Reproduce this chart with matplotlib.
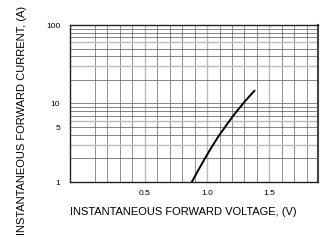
import numpy as np
import matplotlib.pyplot as plt

plt.rcParams['font.family'] = ['Liberation Sans', 'DejaVu Sans']

# forward characteristic
voltage = [0.877, 0.93, 0.983, 1.036, 1.09, 1.157, 1.224, 1.30, 1.379]
current = [1.0, 1.42, 2.0, 2.77, 3.79, 5.36, 7.48, 10.5, 14.5]

x_ticks = [0.5, 1.0, 1.5]
x_labels = ['0.5', '1.0', '1.5']
y_ticks = [1, 5, 10, 100]
y_labels = ['1', '5', '10', '100']

fig = plt.figure(figsize=(3.34, 2.45), dpi=100)
ax = fig.add_axes([70/334, 63/245, 248/334, 157/245])

# grid
for v in np.arange(0.1, 1.85, 0.1):
    v = round(v, 1)
    light = v in (0.5, 1.0, 1.5)
    ax.axvline(v, color='#bbbbbb' if light else '#666666',
               lw=1.0 if light else 0.5, zorder=1)
for dec in (1, 10):
    for m in range(2, 10):
        y = m * dec
        light = m in (3, 6)
        ax.axhline(y, color='#bbbbbb' if light else '#555555',
                   lw=1.0 if light else 0.5, zorder=1)
ax.axhline(10, color='#555555', lw=0.5, zorder=1)

ax.plot(voltage, current, color='black', lw=1.4, zorder=3)

ax.set_yscale('log')
ax.set_xlim(-0.1, 1.89)
ax.set_ylim(1, 100)
ax.set_xticks(x_ticks)
ax.set_xticklabels(x_labels)
ax.set_yticks(y_ticks)
ax.set_yticklabels(y_labels)
ax.minorticks_off()
ax.tick_params(axis='x', length=0, labelsize=6, pad=6)
ax.tick_params(axis='y', length=0, labelsize=6, pad=7)
for s in ax.spines.values():
    s.set_linewidth(1.0)
    s.set_color('#222222')
ax.spines['right'].set_linewidth(1.5)
ax.spines['right'].set_color('#444444')

fig.text(183/334, 1 - 212/245, 'INSTANTANEOUS FORWARD VOLTAGE, (V)',
         fontsize=8, ha='center', va='center')
fig.text(22/334, 1 - 120/245, 'INSTANTANEOUS FORWARD CURRENT, (A)', rotation=90,
         fontsize=8, ha='center', va='center')

fig.savefig('out.png', dpi=100)
